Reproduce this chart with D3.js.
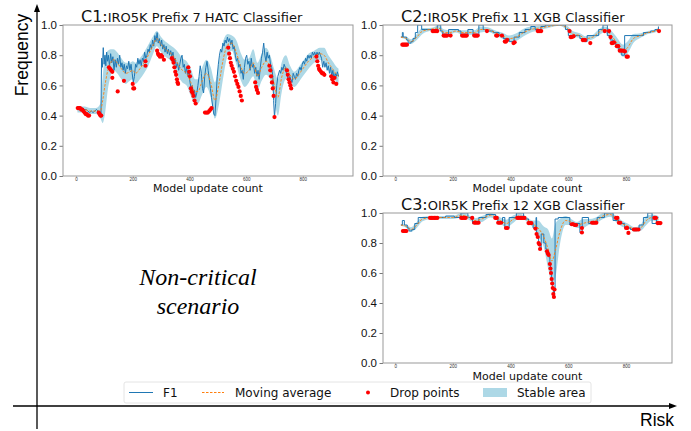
<!DOCTYPE html>
<html>
<head>
<meta charset="utf-8">
<script src="https://cdn.jsdelivr.net/npm/d3@7"></script>
<style>
  body { margin: 0; background: #fff; }
  svg { display: block; font-family: "DejaVu Sans", sans-serif; }
</style>
</head>
<body>
<div id="chart"></div>
<script>
// ---- data ----
const xTicks = [0, 200, 400, 600, 800];
const yTicks = [0, 0.2, 0.4, 0.6, 0.8, 1.0];
const legendItems = ["F1", "Moving average", "Drop points", "Stable area"];

// C1: IRO5K Prefix 7 HATC Classifier  [update, F1]
const c1F1 = [
  [5,0.45],[12,0.46],[18,0.45],[24,0.45],[30,0.44],[36,0.44],[42,0.43],[48,0.42],[54,0.43],[60,0.42],
  [66,0.43],[72,0.44],[78,0.43],[84,0.42],[88,0.41],[90,0.78],[93,0.72],[96,0.85],[99,0.74],[102,0.8],
  [105,0.73],[108,0.82],[111,0.76],[114,0.8],[118,0.73],[122,0.81],[126,0.75],[130,0.79],[134,0.7],[138,0.77],
  [142,0.72],[146,0.78],[150,0.74],[154,0.8],[158,0.72],[162,0.75],[166,0.7],[170,0.74],[174,0.68],[178,0.73],
  [182,0.71],[186,0.76],[190,0.7],[194,0.74],[198,0.68],[202,0.62],[206,0.66],[210,0.74],[214,0.72],[218,0.78],
  [222,0.74],[226,0.77],[230,0.73],[234,0.78],[238,0.76],[242,0.82],[246,0.78],[250,0.8],[254,0.84],[258,0.82],
  [262,0.87],[266,0.84],[270,0.9],[274,0.86],[278,0.93],[282,0.89],[286,0.95],[290,0.88],[294,0.91],[298,0.86],
  [302,0.9],[306,0.84],[310,0.87],[314,0.82],[318,0.86],[322,0.81],[326,0.84],[330,0.8],[334,0.83],[338,0.79],
  [342,0.82],[346,0.76],[350,0.78],[354,0.72],[358,0.75],[362,0.7],[366,0.74],[370,0.78],[374,0.8],[378,0.72],
  [382,0.74],[386,0.68],[390,0.72],[394,0.66],[398,0.7],[402,0.62],[406,0.58],[410,0.6],[414,0.54],[418,0.57],
  [422,0.52],[426,0.55],[430,0.6],[434,0.66],[438,0.73],[442,0.68],[446,0.58],[450,0.55],[454,0.66],[458,0.72],
  [462,0.76],[466,0.7],[470,0.64],[474,0.58],[478,0.52],[482,0.46],[486,0.41],[490,0.4],[494,0.52],[498,0.66],
  [502,0.74],[506,0.8],[510,0.84],[514,0.82],[518,0.88],[522,0.86],[526,0.9],[530,0.88],[534,0.92],[538,0.89],
  [542,0.91],[546,0.87],[550,0.9],[554,0.84],[558,0.86],[562,0.8],[566,0.76],[570,0.78],[574,0.72],[578,0.74],
  [582,0.68],[586,0.7],[590,0.64],[594,0.72],[598,0.78],[602,0.8],[606,0.74],[610,0.76],[614,0.7],[618,0.78],
  [622,0.72],[626,0.74],[630,0.68],[634,0.72],[638,0.66],[642,0.7],[646,0.64],[650,0.72],[654,0.78],[658,0.82],
  [662,0.88],[666,0.8],[670,0.76],[674,0.82],[678,0.78],[682,0.8],[686,0.74],[690,0.72],[694,0.66],[697,0.5],
  [700,0.39],[704,0.48],[708,0.6],[712,0.66],[718,0.7],[722,0.68],[726,0.72],[730,0.7],[734,0.74],[738,0.72],
  [742,0.68],[746,0.66],[750,0.62],[754,0.66],[758,0.64],[762,0.62],[766,0.68],[770,0.66],[774,0.64],[778,0.68],
  [782,0.66],[786,0.7],[790,0.72],[794,0.7],[798,0.74],[802,0.76],[806,0.74],[810,0.78],[814,0.76],[818,0.8],
  [822,0.78],[826,0.8],[830,0.78],[834,0.82],[838,0.8],[842,0.82],[846,0.79],[850,0.82],[854,0.8],[858,0.82],
  [862,0.8],[866,0.78],[870,0.72],[874,0.76],[878,0.72],[882,0.75],[886,0.7],[890,0.73],[894,0.68],[898,0.72],
  [902,0.66],[906,0.7],[910,0.64],[914,0.68],[918,0.66],[922,0.69],[926,0.66]
];
// [update, moving average, stable half-width]
const c1Avg = [
  [5,0.44,0.02],[30,0.44,0.02],[50,0.43,0.02],[70,0.43,0.02],[86,0.43,0.05],[94,0.50,0.15],[102,0.60,0.19],
  [112,0.70,0.13],[122,0.75,0.09],[132,0.77,0.07],[145,0.75,0.07],[160,0.71,0.07],[175,0.68,0.07],
  [190,0.69,0.06],[200,0.70,0.06],[210,0.68,0.07],[225,0.71,0.07],[240,0.75,0.07],[255,0.80,0.07],
  [270,0.86,0.06],[285,0.91,0.05],[300,0.87,0.05],[315,0.84,0.05],[330,0.82,0.05],[345,0.79,0.06],
  [360,0.74,0.08],[375,0.70,0.08],[390,0.68,0.08],[405,0.62,0.09],[420,0.56,0.08],[430,0.56,0.08],
  [445,0.63,0.09],[460,0.68,0.09],[475,0.62,0.1],[490,0.50,0.12],[505,0.62,0.14],[520,0.78,0.12],
  [535,0.87,0.07],[550,0.88,0.05],[565,0.82,0.08],[580,0.73,0.09],[595,0.68,0.09],[610,0.70,0.08],
  [625,0.75,0.09],[640,0.66,0.09],[655,0.72,0.09],[670,0.76,0.09],[685,0.72,0.08],[700,0.60,0.1],
  [712,0.52,0.12],[725,0.65,0.1],[740,0.72,0.08],[755,0.67,0.06],[770,0.64,0.05],[785,0.67,0.05],
  [800,0.71,0.05],[820,0.76,0.05],[840,0.79,0.04],[860,0.81,0.04],[875,0.80,0.05],[890,0.75,0.05],
  [905,0.71,0.05],[920,0.67,0.05],[926,0.66,0.05]
];
const c1Drops = [
  [6,0.45],[10,0.45],[14,0.45],[18,0.44],[22,0.44],[26,0.43],[30,0.42],[34,0.41],[38,0.41],[42,0.40],[46,0.40],
  [80,0.42],[83,0.41],[86,0.40],[89,0.40],[116,0.72],[120,0.71],[124,0.70],[128,0.69],[128,0.65],[147,0.56],
  [169,0.63],[200,0.61],[202,0.58],[205,0.58],[245,0.76],[245,0.73],[286,0.83],[289,0.81],[292,0.80],[296,0.79],
  [300,0.80],[304,0.79],[310,0.77],[338,0.78],[341,0.77],[344,0.75],[347,0.72],[350,0.69],[353,0.67],[356,0.64],
  [358,0.62],[360,0.61],[396,0.72],[399,0.69],[402,0.66],[405,0.58],[408,0.56],[411,0.55],[414,0.53],[418,0.50],
  [422,0.48],[455,0.42],[460,0.42],[465,0.42],[470,0.43],[474,0.44],[478,0.45],[537,0.85],[540,0.81],[543,0.78],
  [546,0.75],[549,0.73],[553,0.71],[557,0.69],[561,0.66],[565,0.63],[569,0.61],[573,0.59],[577,0.56],[581,0.53],
  [585,0.50],[632,0.62],[635,0.59],[638,0.57],[642,0.55],[682,0.73],[685,0.70],[688,0.66],[691,0.62],[694,0.58],
  [697,0.53],[700,0.39],[744,0.70],[747,0.67],[750,0.64],[753,0.62],[756,0.60],[759,0.58],[848,0.79],[851,0.76],
  [854,0.73],[857,0.71],[860,0.70],[864,0.69],[868,0.68],[872,0.68],[876,0.67],[900,0.66],[904,0.64],[908,0.62],
  [912,0.65],[918,0.61]
];

// C2: IRO5K Prefix 11 XGB Classifier
const c2F1 = [
  [20,0.92],[25,0.95],[28,0.92],[40,0.90],[45,0.88],[55,0.89],[62,0.91],[70,0.95],[78,1.0],[92,0.97],
  [130,0.97],[146,1.0],[158,0.96],[165,0.93],[185,0.97],[220,0.96],[228,0.93],[252,0.97],[270,0.93],[290,1.0],
  [305,0.97],[320,0.96],[340,0.95],[360,0.93],[375,0.91],[395,0.89],[412,0.92],[430,0.95],[450,0.97],[470,0.99],
  [485,0.97],[505,0.99],[520,1.0],[580,1.0],[590,0.97],[600,0.93],[625,0.93],[640,0.91],[655,0.89],[665,0.93],
  [690,0.93],[705,0.97],[720,1.0],[735,0.93],[745,0.90],[755,0.88],[765,0.86],[775,0.84],[785,0.80],[795,0.93],
  [845,0.93],[860,0.95],[885,0.96],[900,0.97],[912,0.99]
];
const c2Avg = [
  [20,0.92,0.005],[40,0.91,0.01],[55,0.89,0.015],[75,0.92,0.02],[95,0.96,0.02],[120,0.97,0.01],[150,0.98,0.015],
  [170,0.95,0.02],[190,0.95,0.015],[210,0.96,0.01],[235,0.95,0.015],[255,0.95,0.015],[275,0.95,0.015],
  [295,0.97,0.02],[320,0.97,0.015],[345,0.95,0.015],[370,0.93,0.02],[395,0.91,0.02],[420,0.92,0.025],
  [445,0.95,0.025],[470,0.97,0.02],[500,0.98,0.015],[530,0.99,0.01],[570,1.0,0.005],[595,0.98,0.015],
  [615,0.94,0.02],[640,0.93,0.015],[660,0.91,0.015],[685,0.92,0.015],[705,0.95,0.02],[725,0.97,0.02],
  [745,0.94,0.03],[765,0.89,0.035],[790,0.83,0.04],[805,0.85,0.04],[825,0.91,0.03],[850,0.93,0.015],
  [875,0.95,0.01],[900,0.96,0.01],[912,0.97,0.01]
];
const c2Drops = [
  [25,0.87],[29,0.87],[33,0.87],[37,0.87],[41,0.87],[130,0.96],[134,0.96],[138,0.96],[142,0.96],[146,0.96],
  [168,0.93],[172,0.93],[176,0.93],[180,0.93],[192,0.93],[232,0.93],[236,0.93],[240,0.93],[244,0.93],[248,0.93],
  [274,0.93],[278,0.93],[282,0.93],[286,0.93],[318,0.96],[350,0.93],[354,0.93],[370,0.93],[380,0.89],[384,0.89],
  [388,0.90],[410,0.88],[414,0.885],[494,0.96],[498,0.96],[502,0.96],[506,0.96],[604,0.96],[608,0.92],[612,0.92],
  [618,0.925],[650,0.90],[654,0.90],[658,0.90],[676,0.88],[726,0.96],[741,0.96],[746,0.92],[750,0.88],[754,0.88],
  [758,0.885],[768,0.86],[773,0.86],[778,0.83],[784,0.83],[790,0.83],[796,0.825],[802,0.79],[806,0.79],[914,0.96]
];

// C3: OIR5K Prefix 12 XGB Classifier
const c3F1 = [
  [20,0.92],[25,0.95],[32,0.92],[42,0.90],[48,0.88],[58,0.89],[68,0.93],[80,0.97],[175,0.98],[205,0.97],
  [228,1.0],[252,0.97],[268,0.93],[290,0.97],[315,0.99],[348,0.97],[356,0.93],[372,0.97],[380,0.90],[395,0.97],
  [420,1.0],[445,0.96],[462,0.93],[478,0.90],[488,0.97],[490,0.86],[494,0.84],[497,0.80],[500,0.79],[502,0.76],
  [506,0.86],[515,0.80],[522,0.76],[526,0.745],[530,0.72],[534,0.70],[536,0.66],[538,0.63],[540,0.60],[542,0.56],
  [544,0.53],[546,0.50],[548,0.46],[550,0.44],[552,0.49],[554,0.96],[565,0.97],[605,0.92],[625,0.93],[640,0.87],
  [648,0.97],[670,0.93],[700,0.97],[725,1.0],[755,0.95],[775,0.93],[795,0.90],[815,0.89],[845,0.92],[860,0.97],
  [875,1.0],[890,0.93],[905,0.97],[912,0.97]
];
const c3Avg = [
  [20,0.92,0.005],[40,0.91,0.01],[55,0.89,0.015],[75,0.92,0.02],[95,0.96,0.015],[130,0.97,0.01],[170,0.97,0.01],
  [200,0.97,0.01],[230,0.985,0.015],[255,0.97,0.015],[275,0.95,0.015],[300,0.96,0.02],[330,0.985,0.015],
  [350,0.97,0.015],[365,0.95,0.02],[385,0.93,0.025],[410,0.96,0.025],[430,0.98,0.015],[455,0.96,0.015],
  [475,0.93,0.02],[495,0.90,0.05],[515,0.84,0.07],[530,0.76,0.13],[543,0.68,0.15],[555,0.75,0.18],
  [570,0.87,0.09],[590,0.95,0.03],[610,0.94,0.02],[630,0.92,0.02],[650,0.93,0.03],[670,0.94,0.02],
  [695,0.95,0.02],[720,0.98,0.02],[745,0.99,0.015],[765,0.96,0.02],[785,0.93,0.02],[810,0.91,0.015],
  [830,0.89,0.015],[850,0.90,0.02],[870,0.95,0.03],[890,0.97,0.02],[912,0.96,0.02]
];
const c3Drops = [
  [27,0.88],[31,0.88],[35,0.88],[39,0.88],[121,0.967],[126,0.967],[131,0.967],[136,0.967],[141,0.967],[146,0.967],
  [229,0.967],[234,0.967],[239,0.967],[244,0.967],[267,0.967],[274,0.935],[279,0.935],[284,0.935],[289,0.935],
  [347,0.967],[352,0.967],[357,0.935],[362,0.935],[367,0.935],[384,0.90],[389,0.90],[423,0.967],[428,0.967],
  [433,0.967],[438,0.967],[443,0.967],[448,0.967],[462,0.933],[467,0.933],[472,0.933],[486,0.896],[490,0.86],
  [494,0.84],[497,0.80],[500,0.79],[502,0.76],[526,0.745],[529,0.73],[532,0.72],[536,0.66],[538,0.63],[540,0.60],
  [542,0.56],[544,0.53],[546,0.50],[548,0.46],[550,0.44],[552,0.49],[612,0.925],[617,0.925],[622,0.92],[627,0.92],
  [647,0.90],[647,0.87],[682,0.935],[687,0.935],[692,0.935],[697,0.935],[765,0.967],[770,0.967],[775,0.935],
  [780,0.935],[800,0.90],[804,0.90],[808,0.867],[827,0.89],[832,0.89],[837,0.89],[843,0.89],[898,0.967],
  [903,0.967],[909,0.933],[914,0.933],[919,0.933]
];

// ---- drawing ----
const BLUE = "#1f77b4", ORANGE = "#ff7f0e", BAND = "#add8e6", DROP = "#ff0000";

const svg = d3.select("#chart").append("svg")
  .attr("width", 691)
  .attr("height", 431);

const panels = [
  { id: "c1", tag: "C1:", name: "IRO5K Prefix 7 HATC Classifier", f1: c1F1, avg: c1Avg, drops: c1Drops,
    left: 63, right: 353, top: 25, bottom: 176, xDomain: [-46, 977], curve: d3.curveLinear, labelY: 192 },
  { id: "c2", tag: "C2:", name: "IRO5K Prefix 11 XGB Classifier", f1: c2F1, avg: c2Avg, drops: c2Drops,
    left: 383, right: 672, top: 25, bottom: 176, xDomain: [-42, 959], curve: d3.curveStepAfter, labelY: 192 },
  { id: "c3", tag: "C3:", name: "OIR5K Prefix 12 XGB Classifier", f1: c3F1, avg: c3Avg, drops: c3Drops,
    left: 383, right: 672, top: 213, bottom: 363, xDomain: [-42, 959], curve: d3.curveStepAfter, labelY: 379.5 }
];

// big frame arrows first so the panels sit on top
svg.append("line").attr("x1", 37).attr("x2", 37).attr("y1", 429).attr("y2", 10)
  .attr("stroke", "#000").attr("stroke-width", 1.3);
svg.append("path").attr("d", "M37,4 L34,12 L40,12 Z").attr("fill", "#000");
svg.append("line").attr("x1", 13).attr("x2", 671).attr("y1", 406).attr("y2", 406)
  .attr("stroke", "#000").attr("stroke-width", 1.3);
svg.append("path").attr("d", "M677,406 L669,403 L669,409 Z").attr("fill", "#000");

svg.append("text")
  .attr("transform", "translate(28,55) rotate(-90)")
  .attr("text-anchor", "middle")
  .style("font-family", "'Liberation Sans', Arial, sans-serif")
  .style("font-size", "17.5px")
  .text("Frequency");

svg.append("text")
  .attr("x", 640).attr("y", 426)
  .style("font-family", "'Liberation Sans', Arial, sans-serif")
  .style("font-size", "17.5px")
  .text("Risk");

const note = svg.append("text")
  .attr("text-anchor", "middle")
  .style("font-family", "'Liberation Serif', 'Times New Roman', serif")
  .style("font-style", "italic")
  .style("font-size", "24px");
note.append("tspan").attr("x", 198).attr("y", 285).text("Non-critical");
note.append("tspan").attr("x", 198).attr("y", 314).text("scenario");

panels.forEach((p) => {
  const g = svg.append("g").attr("class", "panel");
  const x = d3.scaleLinear().domain(p.xDomain).range([p.left, p.right]);
  const y = d3.scaleLinear().domain([0, 1]).range([p.bottom, p.top]);

  g.append("clipPath").attr("id", `clip-${p.id}`)
    .append("rect")
    .attr("x", p.left).attr("y", p.top)
    .attr("width", p.right - p.left).attr("height", p.bottom - p.top);

  const plot = g.append("g").attr("clip-path", `url(#clip-${p.id})`);

  const band = d3.area()
    .x((d) => x(d[0]))
    .y0((d) => y(d[1] - d[2]))
    .y1((d) => y(d[1] + d[2]))
    .curve(d3.curveMonotoneX);

  plot.append("path").datum(p.avg).attr("d", band).attr("fill", BAND);

  const f1Line = d3.line().x((d) => x(d[0])).y((d) => y(d[1])).curve(p.curve);
  plot.append("path").datum(p.f1).attr("d", f1Line)
    .attr("fill", "none").attr("stroke", BLUE).attr("stroke-width", 1);

  const avgLine = d3.line().x((d) => x(d[0])).y((d) => y(d[1])).curve(d3.curveMonotoneX);
  plot.append("path").datum(p.avg).attr("d", avgLine)
    .attr("fill", "none").attr("stroke", ORANGE).attr("stroke-width", 0.9)
    .attr("stroke-dasharray", "2.5,1.5");

  g.append("g").selectAll("circle")
    .data(p.drops)
    .join("circle")
    .attr("cx", (d) => x(d[0]))
    .attr("cy", (d) => y(d[1]))
    .attr("r", 2.1)
    .attr("fill", DROP);

  // axes
  const xAxis = g.append("g")
    .attr("transform", `translate(0,${p.bottom})`)
    .call(d3.axisBottom(x).tickValues(xTicks).tickSize(1.5).tickPadding(0.5));
  xAxis.select(".domain").remove();
  xAxis.selectAll("text").style("font-size", "4.5px").attr("fill", "#333");
  xAxis.selectAll("line").attr("stroke", "#888").attr("stroke-width", 0.5);

  const yAxis = g.append("g")
    .attr("transform", `translate(${p.left},0)`)
    .call(d3.axisLeft(y).tickValues(yTicks).tickFormat(d3.format(".1f")).tickSize(3.5).tickPadding(2.5));
  yAxis.select(".domain").remove();
  yAxis.selectAll("text").style("font-size", "11.5px").attr("fill", "#111");
  yAxis.selectAll("line").attr("stroke", "#555").attr("stroke-width", 0.8);

  g.append("rect")
    .attr("x", p.left).attr("y", p.top)
    .attr("width", p.right - p.left).attr("height", p.bottom - p.top)
    .attr("fill", "none").attr("stroke", "#999").attr("stroke-width", 1);

  // title
  const title = g.append("text")
    .attr("x", p.left + 18)
    .attr("y", p.top - 3)
    .attr("fill", "#111");
  title.append("tspan").style("font-size", "16px").text(p.tag);
  title.append("tspan").style("font-size", "13px").text(p.name);

  g.append("text")
    .attr("x", (p.left + p.right) / 2)
    .attr("y", p.labelY)
    .attr("text-anchor", "middle")
    .style("font-size", "11px")
    .attr("fill", "#111")
    .text("Model update count");
});

// legend
const lg = svg.append("g").attr("class", "legend");
lg.append("rect")
  .attr("x", 124).attr("y", 382).attr("width", 467).attr("height", 21)
  .attr("rx", 2).attr("fill", "#fff").attr("fill-opacity", 0.85)
  .attr("stroke", "#ddd").attr("stroke-width", 0.8);

const legendX = d3.scaleOrdinal().domain(legendItems).range([129, 202, 356, 483]);
const legendTextX = d3.scaleOrdinal().domain(legendItems).range([163, 235, 390, 517]);
const ly = 392.5;

lg.append("line").attr("x1", legendX("F1")).attr("x2", legendX("F1") + 24)
  .attr("y1", ly).attr("y2", ly).attr("stroke", BLUE).attr("stroke-width", 1);
lg.append("line").attr("x1", legendX("Moving average")).attr("x2", legendX("Moving average") + 22)
  .attr("y1", ly).attr("y2", ly).attr("stroke", ORANGE).attr("stroke-width", 1)
  .attr("stroke-dasharray", "2.5,1.5");
lg.append("circle").attr("cx", legendX("Drop points") + 12).attr("cy", ly).attr("r", 2)
  .attr("fill", DROP);
lg.append("rect").attr("x", legendX("Stable area")).attr("y", ly - 4.5)
  .attr("width", 24).attr("height", 9).attr("fill", BAND);

lg.selectAll("text.item")
  .data(legendItems)
  .join("text")
  .attr("class", "item")
  .attr("x", (d) => legendTextX(d))
  .attr("y", ly + 4.3)
  .style("font-size", "12px")
  .attr("fill", "#111")
  .text((d) => d);
</script>
</body>
</html>
